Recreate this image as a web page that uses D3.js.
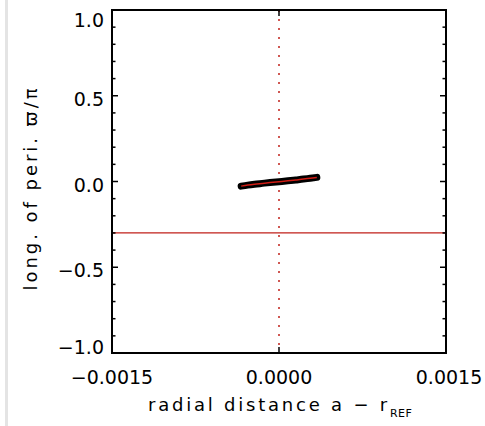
<!DOCTYPE html>
<html>
<head>
<meta charset="utf-8">
<script src="https://cdn.jsdelivr.net/npm/d3@7"></script>
<style>
  html, body { margin: 0; padding: 0; background: #fff; }
  svg { display: block; }
  text { font-family: "DejaVu Sans", "Liberation Sans", Arial, sans-serif; fill: #000; }
</style>
</head>
<body>
<div id="chart"></div>
<script>
(function () {
  'use strict';

  // fitted track (black points) and model (red line)
  var trackX = [-0.00034, -0.00028, -0.00022, -0.00015, -0.00008, 0.0, 0.00008, 0.00015, 0.00022, 0.00028, 0.00034];
  var trackY = [-0.027, -0.021, -0.016, -0.011, -0.006, -0.001, 0.004, 0.009, 0.014, 0.019, 0.024];
  var refLineY = -0.3;
  var refLineX = 0.0;
  var xTicks = [-0.0015, 0.0, 0.0015];
  var xTickLabels = ['\u22120.0015', '0.0000', '0.0015'];
  var yTicks = [-1.0, -0.5, 0.0, 0.5, 1.0];
  var yTickLabels = ['\u22121.0', '\u22120.5', '0.0', '0.5', '1.0'];
  var yMinor = d3.range(-10, 11).map(function (i) { return i / 10; });

  var width = 485, height = 426;
  var margin = { top: 10, right: 39, bottom: 73, left: 112 };
  var iw = width - margin.left - margin.right;
  var ih = height - margin.top - margin.bottom;

  var x = d3.scaleLinear().domain([-0.0015, 0.0015]).range([0, iw]);
  var y = d3.scaleLinear().domain([-1, 1]).range([ih, 0]);

  var svg = d3.select('#chart').append('svg').attr('width', width).attr('height', height);

  // light page edge on the left
  svg.append('rect').attr('x', 5).attr('y', 0).attr('width', 3).attr('height', height).attr('fill', '#e4e4e4');

  var g = svg.append('g').attr('transform', 'translate(' + margin.left + ',' + margin.top + ')');

  // reference lines
  g.append('line').attr('x1', 0).attr('x2', iw).attr('y1', y(refLineY)).attr('y2', y(refLineY))
    .attr('stroke', '#c0201a').attr('stroke-width', 1.2);
  g.append('line').attr('x1', x(refLineX)).attr('x2', x(refLineX)).attr('y1', 0).attr('y2', ih)
    .attr('stroke', '#c0201a').attr('stroke-width', 1.5).attr('stroke-dasharray', '2,7');

  // data
  var pts = trackX.map(function (v, i) { return [x(v), y(trackY[i])]; });
  var line = d3.line().curve(d3.curveMonotoneX);
  g.append('path').attr('d', line(pts)).attr('fill', 'none')
    .attr('stroke', '#000').attr('stroke-width', 7).attr('stroke-linecap', 'round');
  g.append('path').attr('d', line(pts)).attr('fill', 'none')
    .attr('stroke', '#d01c14').attr('stroke-width', 1.5);

  // frame
  g.append('rect').attr('x', 0).attr('y', 0).attr('width', iw).attr('height', ih)
    .attr('fill', 'none').attr('stroke', '#000').attr('stroke-width', 2);

  // y ticks (both sides, inward)
  yMinor.forEach(function (v) {
    var major = Math.abs(v * 2 - Math.round(v * 2)) < 1e-9;
    var len = major ? 6 : 3.5;
    g.append('line').attr('x1', 0).attr('x2', len).attr('y1', y(v)).attr('y2', y(v))
      .attr('stroke', '#000').attr('stroke-width', 1.5);
    g.append('line').attr('x1', iw).attr('x2', iw - len).attr('y1', y(v)).attr('y2', y(v))
      .attr('stroke', '#000').attr('stroke-width', 1.5);
  });
  // x ticks (major only)
  xTicks.forEach(function (v) {
    g.append('line').attr('x1', x(v)).attr('x2', x(v)).attr('y1', ih).attr('y2', ih - 6)
      .attr('stroke', '#000').attr('stroke-width', 1.5);
    g.append('line').attr('x1', x(v)).attr('x2', x(v)).attr('y1', 0).attr('y2', 6)
      .attr('stroke', '#000').attr('stroke-width', 1.5);
  });

  // tick labels (end labels are pulled inside like IDL does)
  yTicks.forEach(function (v, i) {
    var cy = Math.max(10, Math.min(ih - 6, y(v) + 3));
    g.append('text').attr('x', -8).attr('y', cy + 7)
      .attr('text-anchor', 'end').attr('font-size', 19).text(yTickLabels[i]);
  });
  xTicks.forEach(function (v, i) {
    g.append('text').attr('x', x(v) + (i === 2 ? 3 : 0)).attr('y', ih + 31)
      .attr('text-anchor', 'middle').attr('font-size', 19).text(xTickLabels[i]);
  });

  function spread(sel, target) {
    var n = sel.text().length;
    var w = sel.node().getComputedTextLength();
    sel.attr('letter-spacing', ((target - w) / n).toFixed(2));
  }

  // axis titles
  var xt = svg.append('text').attr('x', 148).attr('y', 411).attr('font-size', 18);
  var xMain = xt.append('tspan').text('radial distance a \u2212 r');
  spread(xMain, 242);
  xt.append('tspan').attr('font-size', 11).attr('dy', 6).attr('letter-spacing', 0.5).text('REF');

  var yt = svg.append('text').attr('transform', 'translate(37,188) rotate(-90)')
    .attr('text-anchor', 'middle').attr('font-size', 18).text('long. of peri. \u03d6/\u03c0');
  spread(yt, 205);
})();
</script>
</body>
</html>
